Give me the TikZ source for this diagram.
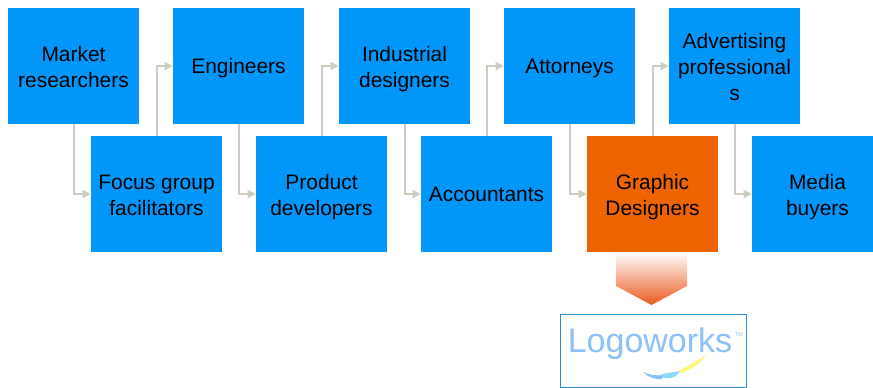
\documentclass[tikz,border=0pt]{standalone}
\usepackage{fontspec}
\setmainfont{Liberation Sans}
\usetikzlibrary{arrows.meta,calc}
\definecolor{boxblue}{HTML}{0096FA}
\definecolor{hiorange}{HTML}{EE6400}
\definecolor{arrowend}{HTML}{EA5A20}
\definecolor{linkgrey}{HTML}{CDCCC0}
\definecolor{logoblue}{HTML}{8CC0FA}
\definecolor{logoframe}{HTML}{2D8FC8}
\newcommand\firstln{\rule{0pt}{16.5pt}}
\newcommand\lastln{\rule[-3.3pt]{0pt}{3.3pt}}
\newcommand\oneln{\rule[-3.3pt]{0pt}{17.7pt}}
\tikzset{
  x=0.75pt,y=-0.75pt,
  rolebox/.style={draw=none,fill=boxblue,minimum width=98.25pt,minimum height=87pt,inner sep=0pt,align=center,
    font=\fontsize{15.7}{19.4}\selectfont,text=black},
  hibox/.style={rolebox,fill=hiorange},
  link/.style={draw=linkgrey,line width=1.5pt,-{Triangle[length=6pt,width=6pt]}},
  logotext/.style={font=\fontsize{25.5}{25.5}\selectfont,text=logoblue,inner sep=0pt},
}
\begin{document}
\begin{tikzpicture}
\useasboundingbox (0,0) rectangle (873,388);
\node[rolebox] (a1) at (73.5,66) {\firstln Market\\researchers\lastln};
\node[rolebox] (a2) at (238.5,66) {\oneln Engineers};
\node[rolebox] (a3) at (404.5,66) {\firstln Industrial\\designers\lastln};
\node[rolebox] (a4) at (569.5,66) {\oneln Attorneys};
\node[rolebox] (a5) at (734.5,66) {\firstln Advertising\\professional\\s\lastln};
\node[rolebox] (b1) at (156.5,194) {\firstln Focus group\\facilitators\lastln};
\node[rolebox] (b2) at (321.5,194) {\firstln Product\\developers\lastln};
\node[rolebox] (b3) at (486.5,194) {\oneln Accountants};
\node[hibox] (b4) at (652.5,194) {\firstln Graphic\\Designers\lastln};
\node[rolebox] (b5) at (817.5,194) {\firstln Media\\buyers\lastln};
\draw[link] (a1.south) |- (b1.west);
\draw[link] (b1.north) |- (a2.west);
\draw[link] (a2.south) |- (b2.west);
\draw[link] (b2.north) |- (a3.west);
\draw[link] (a3.south) |- (b3.west);
\draw[link] (b3.north) |- (a4.west);
\draw[link] (a4.south) |- (b4.west);
\draw[link] (b4.north) |- (a5.west);
\draw[link] (a5.south) |- (b5.west);
\shade[top color=white,bottom color=arrowend]
  (616,252) -- (687,252) -- (687,286) -- (651.5,305) -- (616,286) -- cycle;
\node[draw=logoframe,line width=1pt,fill=white,minimum width=139.5pt,minimum height=54.5pt,inner sep=0pt] (logo) at (653.5,351) {};
\node[logotext,anchor=base] (logoname) at (650,352) {Logoworks};
\node[font=\fontsize{4}{4}\selectfont,text=logoblue,inner sep=0pt] (tm) at (739,335) {TM};
\fill[logoblue] (643,372) .. controls (650,375) and (657,376) .. (663,375) -- (662,379) .. controls (655,380) and (648,377) .. (643,372) -- cycle;
\fill[cyan!45] (662,374) .. controls (668,373) and (675,372) .. (680,371) -- (676,376) .. controls (670,379) and (665,379) .. (662,377) -- cycle;
\fill[yellow!55] (679,370) .. controls (688,367) and (695,362) .. (706,355) -- (703,359) .. controls (698,365) and (690,370) .. (681,373) -- cycle;
\end{tikzpicture}
\end{document}
